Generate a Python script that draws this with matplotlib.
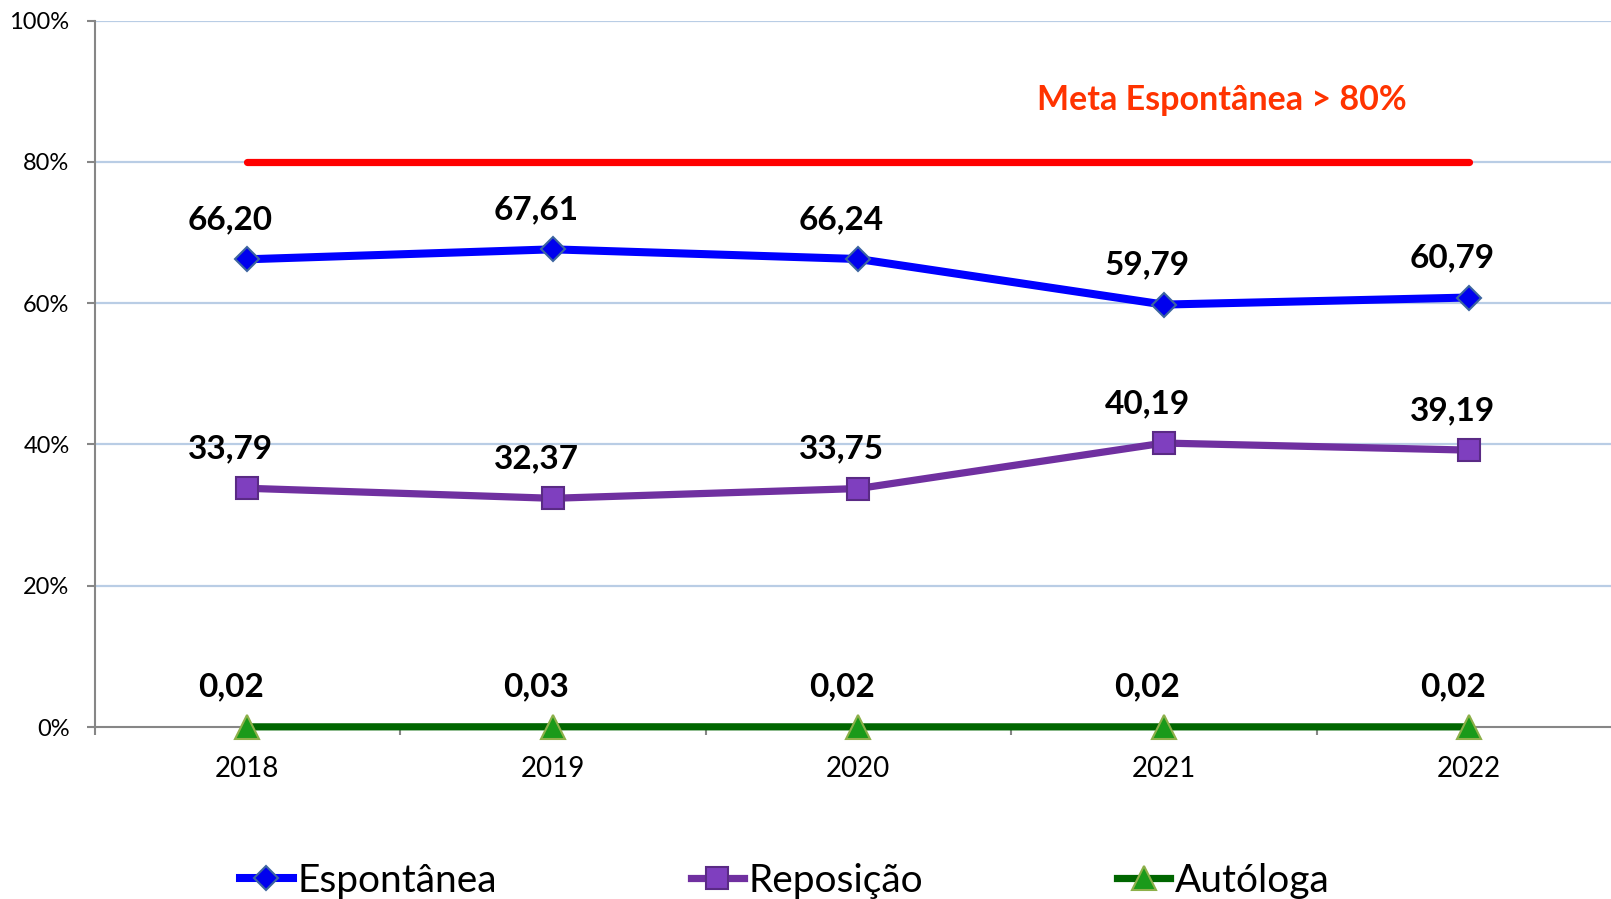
import matplotlib
matplotlib.use("Agg")
import matplotlib.pyplot as plt
from matplotlib.ticker import FixedLocator, FuncFormatter

years = ["2018", "2019", "2020", "2021", "2022"]
espontanea = [66.20, 67.61, 66.24, 59.79, 60.79]
reposicao = [33.79, 32.37, 33.75, 40.19, 39.19]
autologa = [0.02, 0.03, 0.02, 0.02, 0.02]
meta = 80
meta_label = "Meta Espontânea > 80%"
series_names = ["Espontânea", "Reposição", "Autóloga"]
yticks = [0, 20, 40, 60, 80, 100]

plt.rcParams['font.family'] = ['Lato', 'DejaVu Sans']

fig = plt.figure(figsize=(16.11, 8.99), dpi=100)
ax = fig.add_axes([94.5 / 1611, 1 - 727 / 899, (1622 - 94.5) / 1611, (727 - 20.5) / 899])

x = list(range(len(years)))

# grid
for y in yticks[1:]:
    ax.axhline(y, color="#B9CDE5", lw=1.6, zorder=0)

ax.plot([x[0], x[-1]], [meta, meta], color="#FF0000", lw=5.2, solid_capstyle="round", zorder=2)

styles = [
    (espontanea, "#0000FF", "D", 12, "#0000EE", "#3C64A0", 5.8),
    (reposicao, "#7030A0", "s", 15.5, "#7F3FBF", "#5A2A85", 5.2),
    (autologa, "#006600", "^", 17, "#1A9A1A", "#8DB04A", 5.2),
]
handles = []
for (vals, col, mk, ms, fc, ec, lw), name in zip(styles, series_names):
    h, = ax.plot(x, vals, color=col, lw=lw, marker=mk, markersize=ms,
                 markerfacecolor=fc, markeredgecolor=ec, markeredgewidth=1.5,
                 zorder=3, label=name, clip_on=False)
    handles.append(h)
    for xi, v in zip(x, vals):
        ax.annotate(f"{v:.2f}".replace(".", ","), (xi, v), xytext=(-12, 28.5),
                    textcoords="offset points", ha="center", va="center",
                    fontsize=24, fontweight="bold", color="black", zorder=5)

ax.text(3.19, 88.8, meta_label, color="#FF3300", fontsize=24.5, fontweight="bold",
        ha="center", va="center")

ax.set_xlim(-0.5, len(years) - 0.5)
ax.set_ylim(0, 100)

ax.xaxis.set_major_locator(FixedLocator(x))
ax.set_xticklabels(years)
ax.xaxis.set_minor_locator(FixedLocator([i - 0.5 for i in range(len(years) + 1)]))
ax.tick_params(axis="x", which="major", length=0, pad=21, labelsize=20, labelcolor="black")
ax.tick_params(axis="x", which="minor", length=6, width=1.5, color="#868686", direction="out")

ax.yaxis.set_major_locator(FixedLocator(yticks))
ax.yaxis.set_major_formatter(FuncFormatter(lambda v, p: f"{int(v)}%"))
ax.tick_params(axis="y", length=6, width=1.5, color="#868686", pad=12, labelsize=17, labelcolor="black")

for s in ["top", "right"]:
    ax.spines[s].set_visible(False)
for s in ["left", "bottom"]:
    ax.spines[s].set_color("#868686")
    ax.spines[s].set_linewidth(1.5)

leg = fig.legend(handles=handles, loc="center left", bbox_to_anchor=(240 / 1611, 1 - 881 / 899),
                 ncol=3, frameon=False, fontsize=28, handlelength=1.35, handletextpad=0.12,
                 columnspacing=5.0, borderpad=0, borderaxespad=0)

fig.savefig("out.png", dpi=100)
